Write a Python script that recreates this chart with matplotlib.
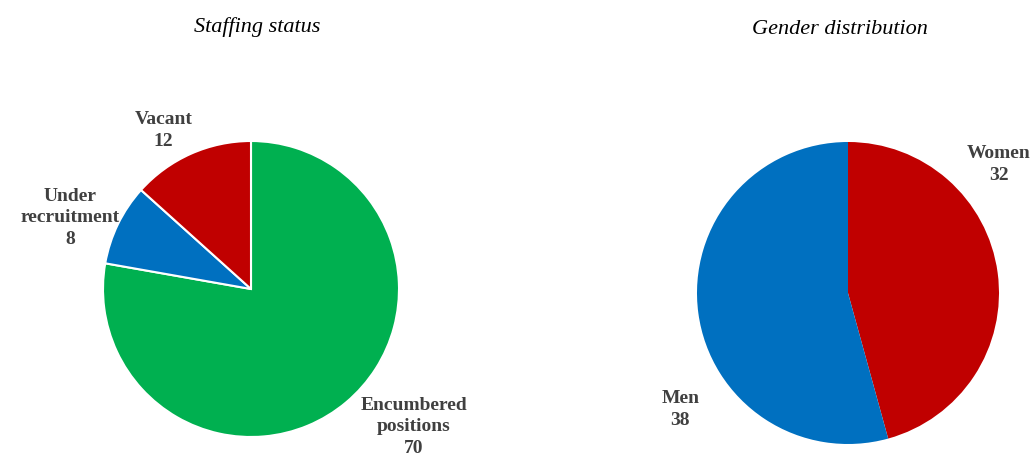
import matplotlib.pyplot as plt

staff_labels = ["Encumbered\npositions", "Under\nrecruitment", "Vacant"]
staff_values = [70, 8, 12]
staff_colors = ["#00b050", "#0070c0", "#c00000"]

gender_labels = ["Women", "Men"]
gender_values = [32, 38]
gender_colors = ["#c00000", "#0070c0"]

W, H = 1033, 455
fig = plt.figure(figsize=(W / 100, H / 100), dpi=100)

serif = ["Liberation Serif", "DejaVu Serif"]
txt_color = "#404040"


def pie_axes(cx, cy, r):
    # cx, cy, r in pixels from top-left
    ax = fig.add_axes([(cx - r) / W, (H - cy - r) / H, 2 * r / W, 2 * r / H])
    return ax


def finish(ax):
    ax.set_xlim(-1, 1)
    ax.set_ylim(-1, 1)
    ax.set_aspect("equal")
    ax.axis("off")


def style_labels(texts, positions):
    for t, p in zip(texts, positions):
        t.set_position(p)
        t.set_ha("center")
        t.set_va("center")
        t.set_fontfamily(serif)
        t.set_fontweight("bold")
        t.set_fontsize(14)
        t.set_color(txt_color)
        t.set_linespacing(1.35)


# left pie
ax1 = pie_axes(251, 289, 148)
wedges, texts = ax1.pie(staff_values, colors=staff_colors, startangle=90,
                        counterclock=False, radius=1,
                        labels=[f"{l}\n{v}" for l, v in zip(staff_labels, staff_values)],
                        wedgeprops=dict(edgecolor="white", linewidth=1.5))
finish(ax1)
style_labels(texts, [(1.10, -0.93), (-1.22, 0.48), (-0.59, 1.07)])

# right pie
ax2 = pie_axes(848, 293, 151)
wedges2, texts2 = ax2.pie(gender_values, colors=gender_colors, startangle=90,
                          counterclock=False, radius=1,
                          labels=[f"{l}\n{v}" for l, v in zip(gender_labels, gender_values)],
                          wedgeprops=dict(edgecolor="none"))
finish(ax2)
style_labels(texts2, [(1.0, 0.85), (-1.11, -0.77)])

fig.text(257 / W, 1 - 27 / H, "Staffing status", ha="center", va="center",
         fontfamily=serif, fontstyle="italic", fontsize=16, color="#000000")
fig.text(840 / W, 1 - 30 / H, "Gender distribution", ha="center", va="center",
         fontfamily=serif, fontstyle="italic", fontsize=16, color="#000000")

plt.savefig("out.png", dpi=100)
